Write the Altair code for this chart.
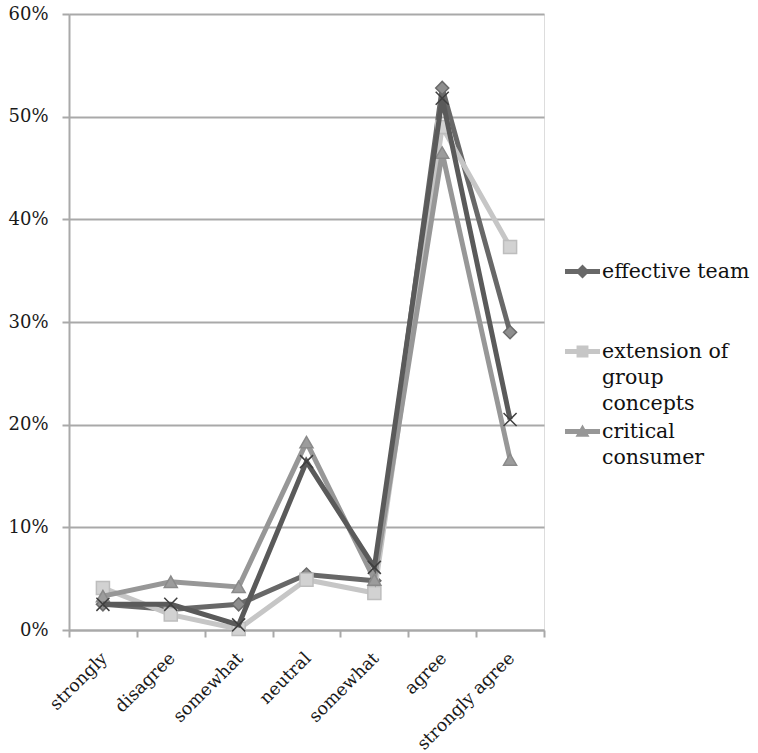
import altair as alt
import pandas as pd

# ---- data ----
categories = ["strongly disagree", "disagree", "somewhat disagree", "neutral",
              "somewhat agree", "agree", "strongly agree"]
tick_labels = ["strongly", "disagree", "somewhat", "neutral",
               "somewhat", "agree", "strongly agree"]

series_names = ["effective team", "extension of group concepts",
                "critical consumer", "series 4"]
effective_team = [0.025, 0.020, 0.025, 0.054, 0.048, 0.528, 0.290]
extension_group = [0.041, 0.015, 0.001, 0.049, 0.036, 0.490, 0.373]
critical_consumer = [0.033, 0.047, 0.042, 0.183, 0.049, 0.465, 0.166]
series_4 = [0.025, 0.025, 0.005, 0.164, 0.061, 0.518, 0.205]

legend_names = ["effective team", "extension of group concepts", "critical consumer"]
legend_labels = ["effective team", "extension of|group|concepts", "critical|consumer"]

line_colors = ["#686868", "#c6c6c6", "#979797", "#5a5a5a"]
marker_fill = ["#8e8e8e", "#d2d2d2", "#9c9c9c", "transparent"]
marker_stroke = ["#6a6a6a", "#bdbdbd", "#8a8a8a", "#3f3f3f"]
marker_shapes = ["diamond", "square", "triangle-up", "M-1,-1L1,1M-1,1L1,-1"]

legend_symbols = [
    "M-1,-0.14L1,-0.14L1,0.14L-1,0.14Z M0,-0.4L0.4,0L0,0.4L-0.4,0Z",
    "M-1,-0.14L1,-0.14L1,0.14L-1,0.14Z M-0.34,-0.34L0.34,-0.34L0.34,0.34L-0.34,0.34Z",
    "M-1,-0.14L1,-0.14L1,0.14L-1,0.14Z M0,-0.4L0.4,0.3L-0.4,0.3Z",
]

rows = []
for name, vals in zip(series_names, [effective_team, extension_group, critical_consumer, series_4]):
    for i, (c, v) in enumerate(zip(categories, vals)):
        rows.append({"series": name, "category": c, "value": v, "order": i})
df = pd.DataFrame(rows)

label_expr = ""
for c, t in zip(categories, tick_labels):
    label_expr += f"datum.value == '{c}' ? '{t}' : "
label_expr += "datum.value"

leg_expr = ""
for n, l in zip(legend_names, legend_labels):
    leg_expr += f"datum.value == '{n}' ? split('{l}', '|') : "
leg_expr += "datum.label"

FONT = "DejaVu Serif"
GRID = "#a9a9a9"

x_enc = alt.X("category:N", sort=categories, title=None,
              scale=alt.Scale(paddingInner=0, paddingOuter=0),
              axis=alt.Axis(labelAngle=-45, labelExpr=label_expr, tickBand="extent",
                            labelFont=FONT, labelFontSize=17.5, labelColor="#1a1a1a",
                            labelPadding=12, labelOffset=-5, domainColor=GRID, domainWidth=2,
                            tickColor=GRID, tickWidth=2, tickSize=7, grid=False))
y_enc = alt.Y("value:Q", title=None,
              scale=alt.Scale(domain=[0, 0.6], nice=False),
              axis=alt.Axis(values=[0, 0.1, 0.2, 0.3, 0.4, 0.5, 0.6], format=".0%",
                            labelFont=FONT, labelFontSize=18, labelColor="#1a1a1a",
                            labelPadding=14, domainColor=GRID, domainWidth=2,
                            tickColor=GRID, tickWidth=2, tickSize=7,
                            grid=True, gridColor=GRID, gridWidth=2))

color_l = alt.Color("series:N", scale=alt.Scale(domain=series_names, range=line_colors), legend=None)
shape_p = alt.Shape("series:N", scale=alt.Scale(domain=series_names, range=marker_shapes), legend=None)
fill_p = alt.Fill("series:N", scale=alt.Scale(domain=series_names, range=marker_fill), legend=None)
stroke_p = alt.Stroke("series:N", scale=alt.Scale(domain=series_names, range=marker_stroke), legend=None)

base = alt.Chart(df)

layers = []
for name in series_names:
    sub = base.transform_filter(alt.datum.series == name)
    layers.append(sub.mark_line(strokeWidth=5, strokeJoin="miter").encode(
        x=x_enc, y=y_enc, color=color_l, order="order:Q"))
    layers.append(sub.mark_point(filled=False, size=170, strokeWidth=1.5, opacity=1).encode(
        x=x_enc, y=y_enc, shape=shape_p, fill=fill_p, stroke=stroke_p))

legend_layer = base.transform_filter("false").mark_point(filled=True, opacity=1, size=1225).encode(
    x=x_enc, y=y_enc,
    color=alt.Color("series:N",
                    scale=alt.Scale(domain=legend_names, range=line_colors[:3]),
                    legend=alt.Legend(title=None, orient="none", legendX=496, legendY=240,
                                      labelExpr=leg_expr, labelFont=FONT, labelFontSize=20.5,
                                      labelColor="#111111", labelLimit=0, labelOffset=2,
                                      labelBaseline="middle", symbolSize=1225,
                                      symbolStrokeWidth=0, gridAlign="all",
                                      rowPadding=-1, padding=0)),
    shape=alt.Shape("series:N",
                    scale=alt.Scale(domain=legend_names, range=legend_symbols),
                    legend=None),
)
layers.append(legend_layer)

chart = alt.layer(*layers).resolve_scale(
    color="independent", shape="independent"
).properties(
    width=475, height=616,
    autosize=alt.AutoSizeParams(type="none"),
    padding={"left": 69, "top": 14, "right": 214, "bottom": 123},
    background="white",
).configure_view(stroke=None).configure(
    style={"guide-label": {"lineHeight": 26}}
)

chart.save("out.html", embed_options={"renderer": "svg", "actions": False})
